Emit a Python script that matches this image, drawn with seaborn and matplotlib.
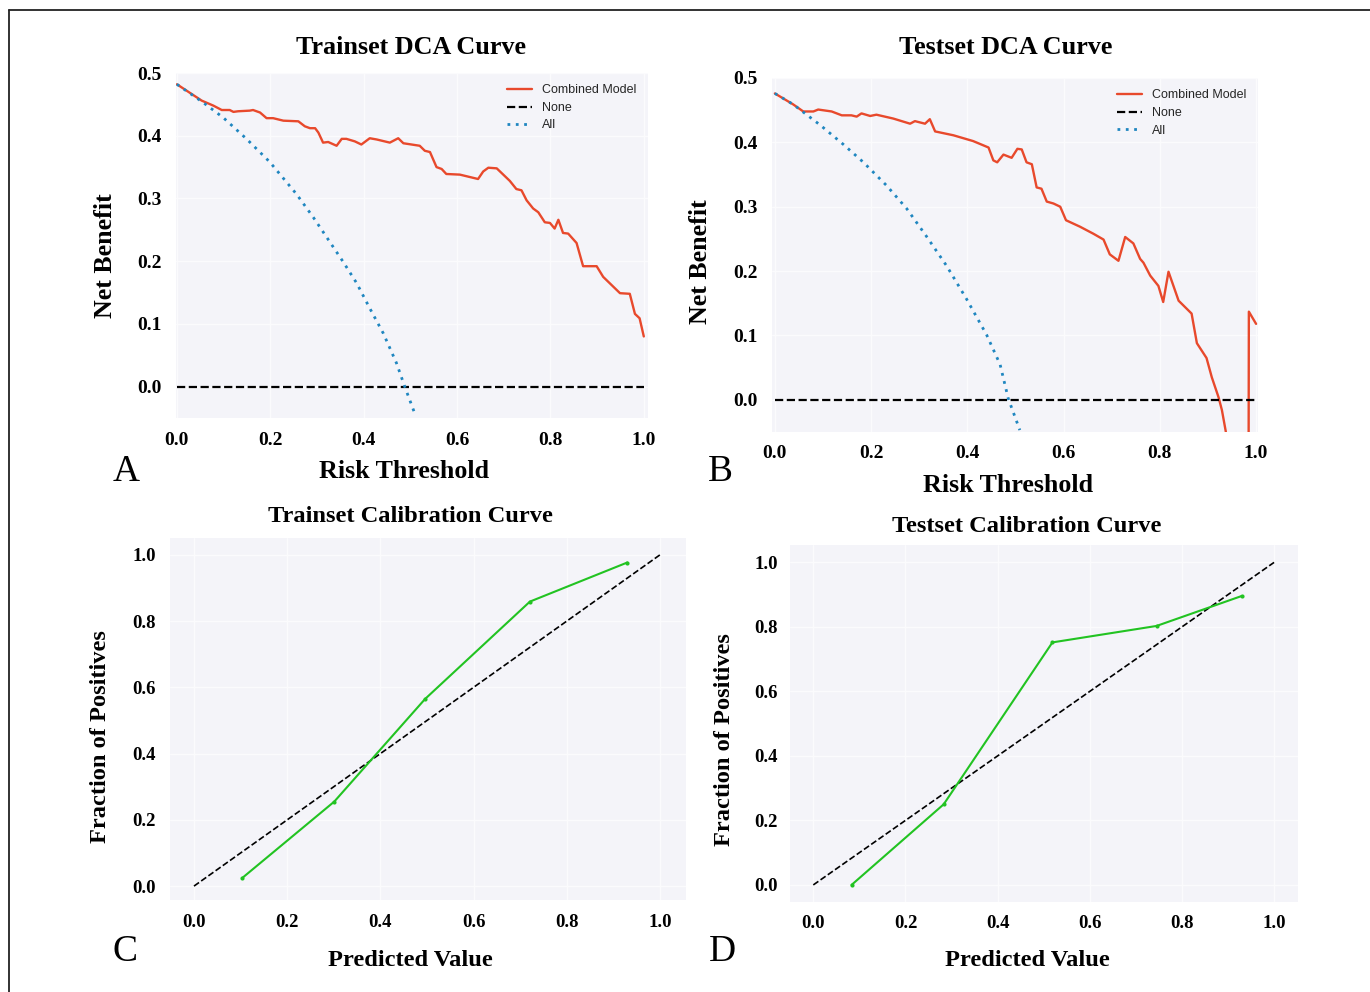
import matplotlib
matplotlib.use("Agg")
import matplotlib.pyplot as plt
from matplotlib.lines import Line2D
import seaborn as sns
import pandas as pd

# ---------------- data ----------------
train_thr = [0.000, 0.053, 0.078, 0.096, 0.113, 0.121, 0.131, 0.156, 0.163, 0.178,
             0.192, 0.206, 0.228, 0.260, 0.274, 0.285, 0.296, 0.303, 0.313, 0.324,
             0.342, 0.353, 0.363, 0.381, 0.395, 0.413, 0.428, 0.456, 0.474, 0.485,
             0.520, 0.531, 0.542, 0.556, 0.567, 0.577, 0.606, 0.645, 0.656, 0.667,
             0.685, 0.713, 0.727, 0.738, 0.749, 0.763, 0.774, 0.788, 0.799, 0.809,
             0.817, 0.827, 0.838, 0.856, 0.870, 0.899, 0.913, 0.949, 0.970, 0.981,
             0.991, 1.000]
train_nb = [0.482, 0.456, 0.448, 0.441, 0.441, 0.438, 0.439, 0.440, 0.441, 0.437,
            0.428, 0.428, 0.424, 0.423, 0.415, 0.412, 0.412, 0.405, 0.389, 0.390,
            0.384, 0.395, 0.395, 0.391, 0.386, 0.396, 0.394, 0.389, 0.396, 0.388,
            0.384, 0.376, 0.374, 0.350, 0.347, 0.339, 0.338, 0.331, 0.343, 0.349,
            0.348, 0.328, 0.315, 0.313, 0.297, 0.284, 0.278, 0.262, 0.261, 0.252,
            0.266, 0.245, 0.244, 0.229, 0.192, 0.192, 0.175, 0.149, 0.148, 0.116,
            0.109, 0.080]
train_all_thr = [0.000, 0.056, 0.099, 0.149, 0.199, 0.256, 0.292, 0.320, 0.356, 0.385,
                 0.413, 0.442, 0.470, 0.488, 0.510]
train_all_nb = [0.482, 0.453, 0.429, 0.395, 0.358, 0.307, 0.270, 0.239, 0.199, 0.165,
                0.125, 0.085, 0.038, 0.000, -0.044]

test_thr = [0.000, 0.038, 0.059, 0.080, 0.090, 0.118, 0.139, 0.159, 0.170, 0.180,
            0.198, 0.211, 0.246, 0.281, 0.291, 0.312, 0.322, 0.333, 0.371, 0.412,
            0.444, 0.454, 0.462, 0.475, 0.492, 0.504, 0.513, 0.523, 0.534, 0.544,
            0.554, 0.565, 0.579, 0.593, 0.605, 0.634, 0.662, 0.683, 0.696, 0.714,
            0.728, 0.745, 0.759, 0.766, 0.780, 0.797, 0.807, 0.818, 0.839, 0.866,
            0.877, 0.897, 0.908, 0.922, 0.929, 0.937, 0.950, 0.980, 0.985, 1.000]
test_nb = [0.476, 0.459, 0.448, 0.448, 0.451, 0.448, 0.442, 0.442, 0.440, 0.445,
           0.441, 0.443, 0.437, 0.429, 0.433, 0.429, 0.436, 0.417, 0.411, 0.402,
           0.392, 0.372, 0.369, 0.381, 0.376, 0.390, 0.389, 0.369, 0.366, 0.330,
           0.328, 0.308, 0.305, 0.300, 0.279, 0.269, 0.258, 0.249, 0.226, 0.216,
           0.253, 0.243, 0.219, 0.213, 0.193, 0.177, 0.152, 0.199, 0.154, 0.134,
           0.088, 0.065, 0.035, 0.004, -0.016, -0.049, -0.500, -2.000, 0.137, 0.118]
test_all_thr = [0.000, 0.038, 0.094, 0.142, 0.184, 0.232, 0.274, 0.315, 0.357, 0.398,
                0.440, 0.468, 0.485, 0.509]
test_all_nb = [0.476, 0.459, 0.427, 0.397, 0.369, 0.333, 0.297, 0.254, 0.208, 0.157,
               0.101, 0.055, 0.002, -0.047]

none_thr = [0.0, 1.0]
none_nb = [0.0, 0.0]

cal_train_pred = [0.104, 0.301, 0.496, 0.721, 0.930]
cal_train_frac = [0.025, 0.255, 0.565, 0.859, 0.977]
cal_test_pred = [0.083, 0.283, 0.519, 0.745, 0.930]
cal_test_frac = [0.000, 0.250, 0.752, 0.803, 0.896]
perfect = [0.0, 1.0]

dca_ticks = [0.0, 0.2, 0.4, 0.6, 0.8, 1.0]
dca_tick_labels = ["0.0", "0.2", "0.4", "0.6", "0.8", "1.0"]
nb_ticks = [0.0, 0.1, 0.2, 0.3, 0.4, 0.5]
nb_tick_labels = ["0.0", "0.1", "0.2", "0.3", "0.4", "0.5"]
cal_ticks = [0.0, 0.2, 0.4, 0.6, 0.8, 1.0]
cal_tick_labels = ["0.0", "0.2", "0.4", "0.6", "0.8", "1.0"]

legend_labels = ["Combined Model", "None", "All"]

# ---------------- style ----------------
sns.set_theme(style="darkgrid", rc={"axes.facecolor": "#f4f4f9",
                                    "grid.color": "#fbfbfd",
                                    "grid.linewidth": 1.0})
plt.rcParams['font.family'] = ['Liberation Serif', 'DejaVu Serif']

RED = "#e8492c"
BLUE = "#1f86c0"
GREEN = "#22c322"

W, H = 1370, 992
fig = plt.figure(figsize=(W / 100, H / 100), dpi=100)
fig.patch.set_facecolor("white")


def add_ax(l, t, r, b):
    return fig.add_axes([l / W, 1 - b / H, (r - l) / W, (b - t) / H])


def ftext(x, y, s, **kw):
    fig.text(x / W, 1 - y / H, s, ha="center", va="center", **kw)


def style_ticks(ax, xt, xl, yt, yl, size, xpad, ypad):
    ax.set_xticks(xt)
    ax.set_xticklabels(xl)
    ax.set_yticks(yt)
    ax.set_yticklabels(yl)
    ax.tick_params(axis="both", length=0, labelsize=size, colors="black")
    ax.tick_params(axis="x", pad=xpad)
    ax.tick_params(axis="y", pad=ypad)
    for lbl in ax.get_xticklabels() + ax.get_yticklabels():
        lbl.set_fontweight("bold")
    ax.set_xlabel("")
    ax.set_ylabel("")
    for s in ax.spines.values():
        s.set_visible(False)


def dca_panel(ax, thr, nb, all_thr, all_nb):
    sns.lineplot(x=thr, y=nb, ax=ax, color=RED, linewidth=1.7, label=legend_labels[0])
    sns.lineplot(x=none_thr, y=none_nb, ax=ax, color="black", linewidth=1.6,
                 linestyle="--", label=legend_labels[1])
    sns.lineplot(x=all_thr, y=all_nb, ax=ax, color=BLUE, linewidth=2.0,
                 linestyle=(0, (1, 2)), label=legend_labels[2])
    ax.legend(loc="upper right", frameon=False,
              prop={"family": "Liberation Sans", "size": 9},
              handlelength=2.0, labelspacing=0.45)


# Panel A
axA = add_ax(176, 73, 648, 418)
dca_panel(axA, train_thr, train_nb, train_all_thr, train_all_nb)
axA.set_xlim(-0.002, 1.009)
axA.set_ylim(-0.05, 0.5)
style_ticks(axA, dca_ticks, dca_tick_labels, nb_ticks, nb_tick_labels, 14, 10, 10)

# Panel B
axB = add_ax(772, 78, 1258, 432)
dca_panel(axB, test_thr, test_nb, test_all_thr, test_all_nb)
axB.set_xlim(-0.006, 1.004)
axB.set_ylim(-0.05, 0.491)
style_ticks(axB, dca_ticks, dca_tick_labels, nb_ticks, nb_tick_labels, 14, 9, 10)

# Panel C
axC = add_ax(170, 538, 686, 900)
sns.lineplot(x=perfect, y=perfect, ax=axC, color="black", linewidth=1.2, linestyle="--",
             legend=False)
sns.lineplot(x=cal_train_pred, y=cal_train_frac, ax=axC, color=GREEN, linewidth=1.5,
             marker="o", markersize=3, markeredgewidth=0, legend=False)
axC.set_xlim(-0.0515, 1.056)
axC.set_ylim(-0.042, 1.051)
style_ticks(axC, cal_ticks, cal_tick_labels, cal_ticks, cal_tick_labels, 13.5, 10, 10)

# Panel D
axD = add_ax(790, 545, 1298, 902)
sns.lineplot(x=perfect, y=perfect, ax=axD, color="black", linewidth=1.2, linestyle="--",
             legend=False)
sns.lineplot(x=cal_test_pred, y=cal_test_frac, ax=axD, color=GREEN, linewidth=1.5,
             marker="o", markersize=3, markeredgewidth=0, legend=False)
axD.set_xlim(-0.0506, 1.052)
axD.set_ylim(-0.053, 1.054)
style_ticks(axD, cal_ticks, cal_tick_labels, cal_ticks, cal_tick_labels, 13.5, 9, 9)

# ---------------- texts ----------------
bold = dict(fontweight="bold", color="black")
ftext(411, 47, "Trainset DCA Curve", fontsize=18.8, **bold)
ftext(1006, 48, "Testset DCA Curve", fontsize=18.8, **bold)
ftext(410, 517, "Trainset Calibration Curve", fontsize=17.6, **bold)
ftext(1027, 526, "Testset Calibration Curve", fontsize=17.6, **bold)

ftext(404, 472, "Risk Threshold", fontsize=18.7, **bold)
ftext(1008, 485, "Risk Threshold", fontsize=18.7, **bold)
ftext(410, 960, "Predicted Value", fontsize=17.6, **bold)
ftext(1027, 960, "Predicted Value", fontsize=17.6, **bold)

ftext(105, 256, "Net Benefit", fontsize=18.6, rotation=90, **bold)
ftext(700, 262, "Net Benefit", fontsize=18.6, rotation=90, **bold)
ftext(101, 737, "Fraction of Positives", fontsize=17.6, rotation=90, **bold)
ftext(725, 740, "Fraction of Positives", fontsize=17.6, rotation=90, **bold)

for (px, py, s) in [(126, 472, "A"), (720, 472, "B"), (125, 952, "C"), (722, 952, "D")]:
    ftext(px, py, s, fontsize=27, color="black")

# outer frame (left and top edges)
fig.add_artist(Line2D([9 / W, 9 / W], [0, 1 - 10 / H], transform=fig.transFigure,
                      color="#222222", linewidth=1.3))
fig.add_artist(Line2D([9 / W, 1], [1 - 10 / H, 1 - 10 / H], transform=fig.transFigure,
                      color="#222222", linewidth=1.3))

fig.savefig("out.png", dpi=100, facecolor="white")
